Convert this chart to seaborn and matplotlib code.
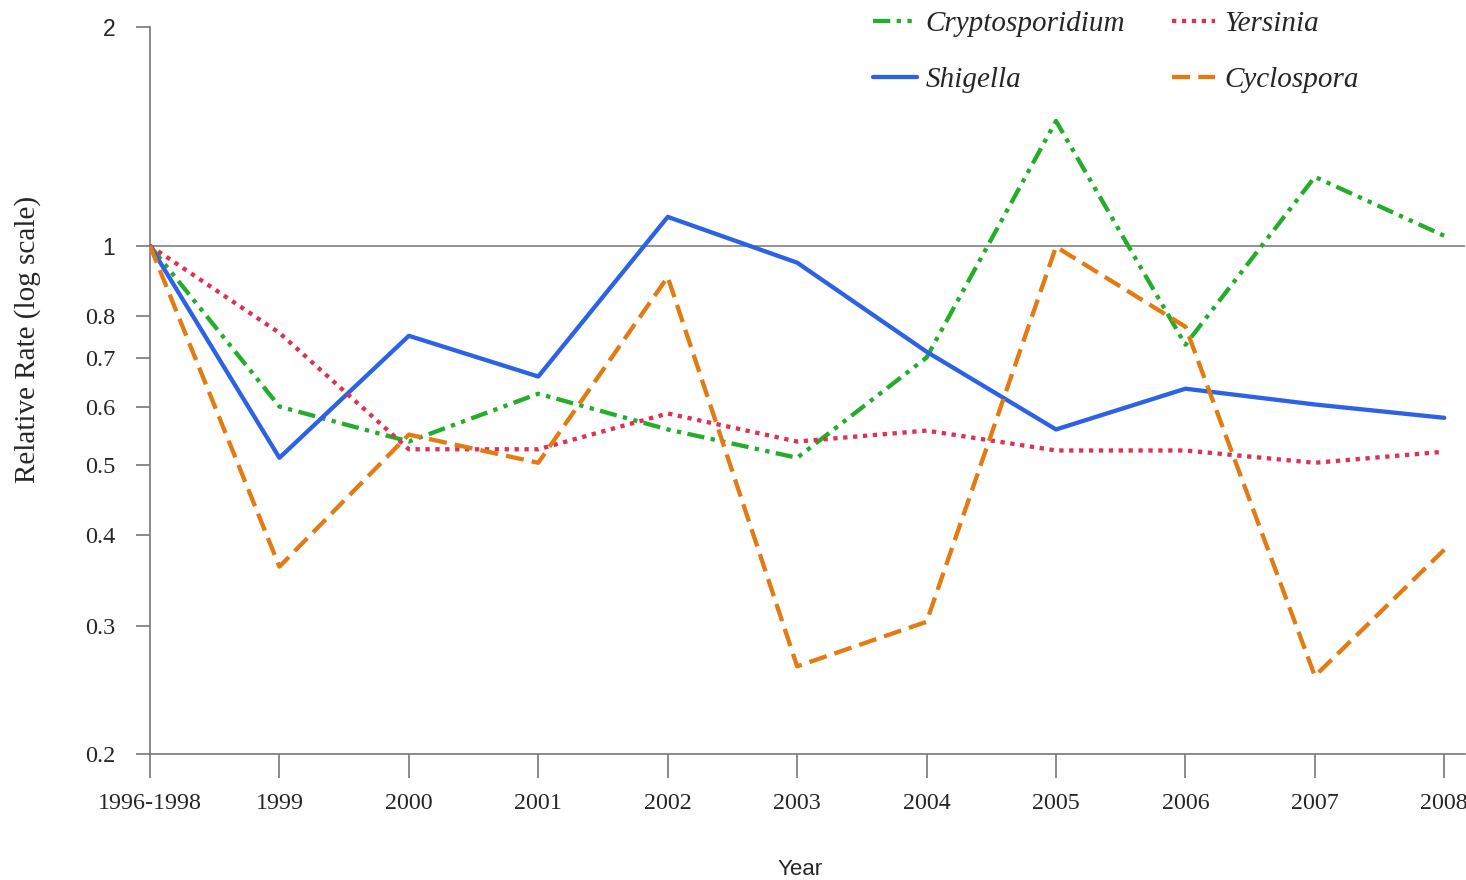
import numpy as np
import pandas as pd
import matplotlib
matplotlib.use("Agg")
import matplotlib.pyplot as plt
from matplotlib.ticker import FixedLocator, NullLocator
import seaborn as sns

# ------------------ Data ------------------
years = ["1996-1998", "1999", "2000", "2001", "2002", "2003",
         "2004", "2005", "2006", "2007", "2008"]
cryptosporidium = [1.0, 0.601, 0.538, 0.626, 0.559, 0.511, 0.702, 1.485, 0.731, 1.244, 1.032]
shigella = [1.0, 0.511, 0.752, 0.661, 1.096, 0.948, 0.715, 0.559, 0.636, 0.605, 0.580]
yersinia = [1.0, 0.759, 0.525, 0.525, 0.588, 0.538, 0.557, 0.523, 0.523, 0.503, 0.521]
cyclospora = [1.0, 0.362, 0.550, 0.503, 0.906, 0.264, 0.304, 0.997, 0.774, 0.256, 0.382]

organisms = ["Cryptosporidium", "Shigella", "Yersinia", "Cyclospora"]
y_ticks = [0.2, 0.3, 0.4, 0.5, 0.6, 0.7, 0.8, 1, 2]
y_tick_labels = ["0.2", "0.3", "0.4", "0.5", "0.6", "0.7", "0.8", "1", "2"]

# ------------------ Style ------------------
colors = {"Cryptosporidium": "#23ad2b", "Shigella": "#2b62e6",
          "Yersinia": "#e0314f", "Cyclospora": "#e27b12"}
dashes = {"Cryptosporidium": (4, 1.5, 1, 1.5, 1, 1.5),
          "Shigella": "",
          "Yersinia": (1, 1.3),
          "Cyclospora": (4.2, 1.9)}

sns.set_theme(style="ticks")
plt.rcParams["font.family"] = ["Liberation Serif", "DejaVu Serif"]

df = pd.DataFrame({"Year": years,
                   "Cryptosporidium": cryptosporidium,
                   "Shigella": shigella,
                   "Yersinia": yersinia,
                   "Cyclospora": cyclospora})
df = df.melt(id_vars="Year", var_name="Organism", value_name="Rate")

fig = plt.figure(figsize=(14.66, 8.8), dpi=100)
ax = fig.add_axes([150 / 1466, 1 - 754 / 880, 1315 / 1466, 737 / 880])

ax.axhline(1, color="#808080", lw=1.2, zorder=1)
sns.lineplot(data=df, x="Year", y="Rate", hue="Organism", style="Organism",
             hue_order=organisms, style_order=organisms,
             palette=colors, dashes=dashes, linewidth=3.1, sort=False, ax=ax, zorder=3)

ax.set_yscale("log")
ax.set_ylim(0.2, 2.064)
ax.set_xlim(0, 10.16)
ax.yaxis.set_major_locator(FixedLocator(y_ticks))
ax.yaxis.set_minor_locator(NullLocator())
ax.set_yticklabels(y_tick_labels)
for lbl in ax.get_yticklabels():
    lbl.set_fontsize(17.5)
    if lbl.get_text() in ("1", "2"):
        lbl.set_family("Liberation Sans")
        lbl.set_fontsize(16.5)
for lbl in ax.get_xticklabels():
    lbl.set_fontsize(17.3)

sns.despine(ax=ax)
for side in ["left", "bottom"]:
    ax.spines[side].set_color("#777777")
    ax.spines[side].set_linewidth(1.2)
ax.spines["left"].set_bounds(0.2, 2)
ax.tick_params(axis="y", length=10, pad=15, color="#777777", width=1.2)
ax.tick_params(axis="x", length=17, pad=11, color="#777777", width=1.2)

ax.set_ylabel("Relative Rate (log scale)", fontsize=21)
ax.yaxis.set_label_coords(-0.083, 0.562)
ax.set_xlabel("Year", fontsize=16, family="Liberation Sans")
ax.xaxis.set_label_coords(0.494, -0.143)

handles, labels = ax.get_legend_handles_labels()
ax.legend(handles, labels, ncol=2, frameon=False, loc="upper left",
          bbox_to_anchor=(873 / 1466, 1 - 11 / 880), bbox_transform=fig.transFigure,
          borderpad=0, borderaxespad=0, handlelength=1.5, handletextpad=0.3,
          labelspacing=1.0, columnspacing=1.6,
          prop={"family": "Liberation Serif", "style": "italic", "size": 21})

fig.savefig("out.png", dpi=100)
